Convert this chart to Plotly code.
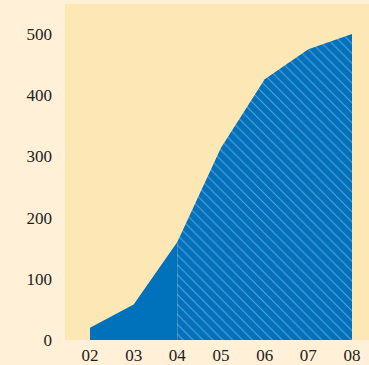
import plotly.graph_objects as go

years = [2, 3, 4, 5, 6, 7, 8]
year_labels = ["02", "03", "04", "05", "06", "07", "08"]
values = [20, 58, 160, 314, 426, 475, 500]
y_ticks = [0, 100, 200, 300, 400, 500]

split = 2  # index of "04": solid before, hatched after
blue = "#0071bb"

fig = go.Figure()
fig.add_trace(go.Scatter(
    x=years[:split + 1], y=values[:split + 1], mode="lines",
    line=dict(width=0, color=blue), fill="tozeroy", fillcolor=blue,
    hoverinfo="skip", showlegend=False))
fig.add_trace(go.Scatter(
    x=years[split:], y=values[split:], mode="lines",
    line=dict(width=0, color=blue), fill="tozeroy",
    fillpattern=dict(shape="\\", fgcolor="#5da2d9", bgcolor=blue,
                     size=7, solidity=0.15, fillmode="replace"),
    hoverinfo="skip", showlegend=False))

fig.update_layout(
    width=369, height=365,
    margin=dict(l=65, r=0, t=4, b=25),
    paper_bgcolor="#fff0d7",
    plot_bgcolor="#fde7b4",
    font=dict(family="Liberation Serif", size=17, color="#222222"),
    xaxis=dict(range=[1.428, 8.389], tickvals=years, ticktext=year_labels,
               showgrid=False, zeroline=False, showline=False, ticks="",
               ticklabelstandoff=3, fixedrange=True),
    yaxis=dict(range=[0, 549], tickvals=y_ticks, showgrid=False,
               zeroline=False, showline=False, ticks="", ticklabelstandoff=12,
               fixedrange=True),
)
fig.write_html("out.html", config={"displayModeBar": False},
               post_script="document.body.style.margin='0';")
